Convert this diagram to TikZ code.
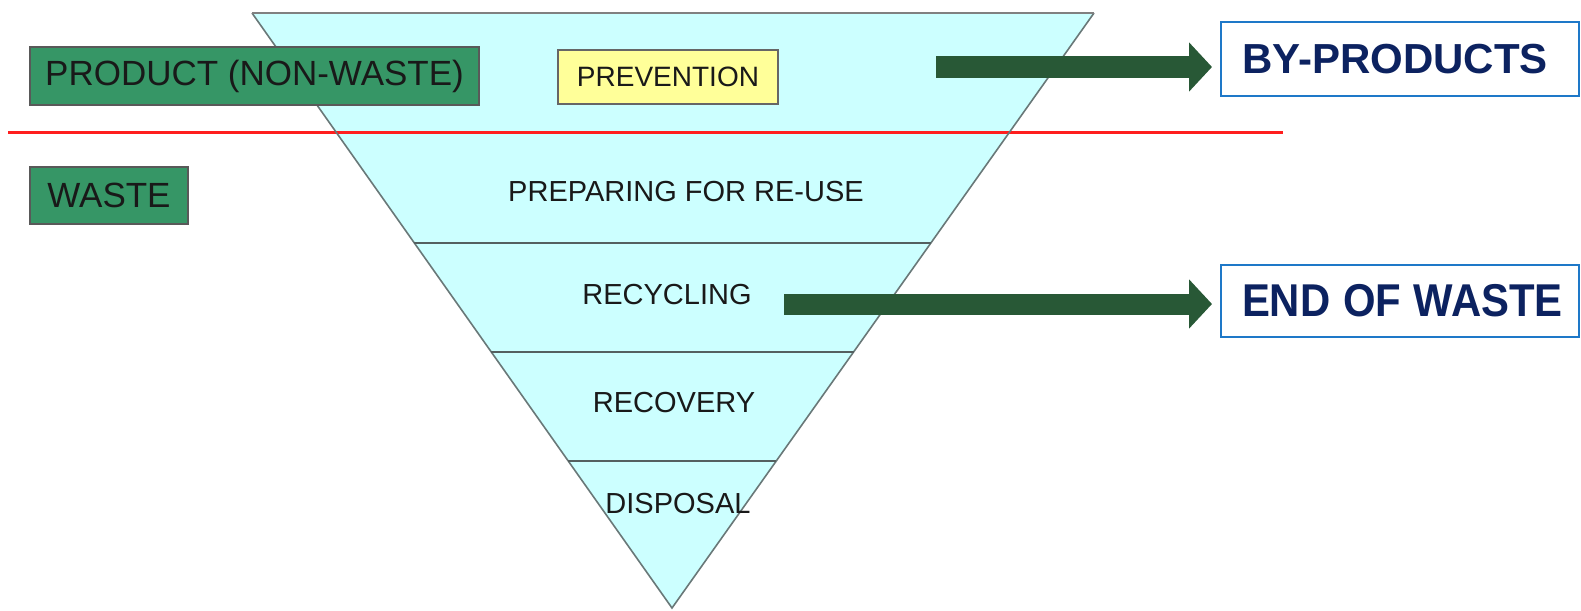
\documentclass[tikz,border=0pt]{standalone}
\usepackage{fontspec}
\setmainfont{Liberation Sans}
\usetikzlibrary{arrows.meta,calc}
\definecolor{cyanfill}{RGB}{204,255,255}
\definecolor{boxgreen}{RGB}{54,150,102}
\definecolor{arrowgreen}{RGB}{40,88,54}
\definecolor{navy}{RGB}{12,34,96}
\definecolor{frameblue}{RGB}{30,120,200}
\definecolor{edgegray}{RGB}{105,120,120}
\definecolor{labelink}{RGB}{25,25,25}
\definecolor{notepad}{RGB}{255,255,153}
\definecolor{cutred}{RGB}{255,30,30}

\begin{document}
\begin{tikzpicture}[x=1pt,y=-1pt,
  greenbox/.style={draw=black!65, line width=1.5pt, fill=boxgreen, text=labelink,
    inner sep=0pt, font=\fontsize{35}{40}\selectfont},
  tierlabel/.style={inner sep=0pt, text=labelink, font=\fontsize{29}{34}\selectfont},
  outcome/.style={draw=frameblue, line width=2pt, inner xsep=21pt, inner ysep=0pt,
    text width=316pt, align=left, text=navy, font=\fontsize{42}{48}\selectfont\bfseries},
  divider/.style={draw=edgegray!80!black, line width=1.8pt},
  flow/.style={arrowgreen, line width=21pt, -{Triangle[length=23pt,width=48pt]}, shorten >=8pt}
]
\useasboundingbox (0,0) rectangle (1581,610);

% inverted pyramid of the waste hierarchy
\coordinate (tl) at (252,13);
\coordinate (tr) at (1094,13);
\coordinate (ap) at (672,608);
\fill[cyanfill] (tl) -- (tr) -- (ap) -- cycle;

% border between product and waste
\coordinate (cutL) at (8,132);
\coordinate (cutR) at (1283,132);
\draw[cutred, line width=3pt] (cutL) -- (cutR);

\draw[edgegray, line width=1.6pt] (tr) -- (ap) -- (tl);
\draw[gray, line width=2.5pt] (tl) -- (tr);
\draw[divider] ($(tl)!0.3866!(ap)$) -- ($(tr)!0.3866!(ap)$);
\draw[divider] ($(tl)!0.5697!(ap)$) -- ($(tr)!0.5697!(ap)$);
\draw[divider] ($(tl)!0.7529!(ap)$) -- ($(tr)!0.7529!(ap)$);

% tiers
\node[draw=black!60, line width=1.5pt, fill=notepad, minimum width=220pt, minimum height=54pt,
  inner sep=0pt, text=labelink, font=\fontsize{28}{34}\selectfont] (prev) at (668,77) {PREVENTION};
\node[tierlabel] (reuse) at (686,192) {PREPARING FOR RE-USE};
\node[tierlabel] (recyc) at (667,295) {RECYCLING};
\node[tierlabel] (recov) at (674,403) {RECOVERY};
\node[tierlabel] (disp) at (678,504) {DISPOSAL};

% left-hand categories
\node[greenbox, minimum width=449pt, minimum height=58pt] (prod) at (254.5,76) {PRODUCT (NON-WASTE)};
\node[greenbox, minimum width=158pt, minimum height=57pt] (waste) at (109,195.5) {WASTE};

% outcomes
\node[outcome, minimum height=74pt] (byp) at (1400,59) {BY-PRODUCTS};
\node[outcome, minimum height=72pt] (eow) at (1400,301) {\fontsize{46}{52}\selectfont\scalebox{0.91}[1]{END OF WASTE}};

% flows
\coordinate (f1) at (936,67);
\coordinate (f2) at (784,304);
\draw[flow] (f1) -- (f1 -| byp.west);
\draw[flow] (f2) -- (f2 -| eow.west);
\end{tikzpicture}
\end{document}
